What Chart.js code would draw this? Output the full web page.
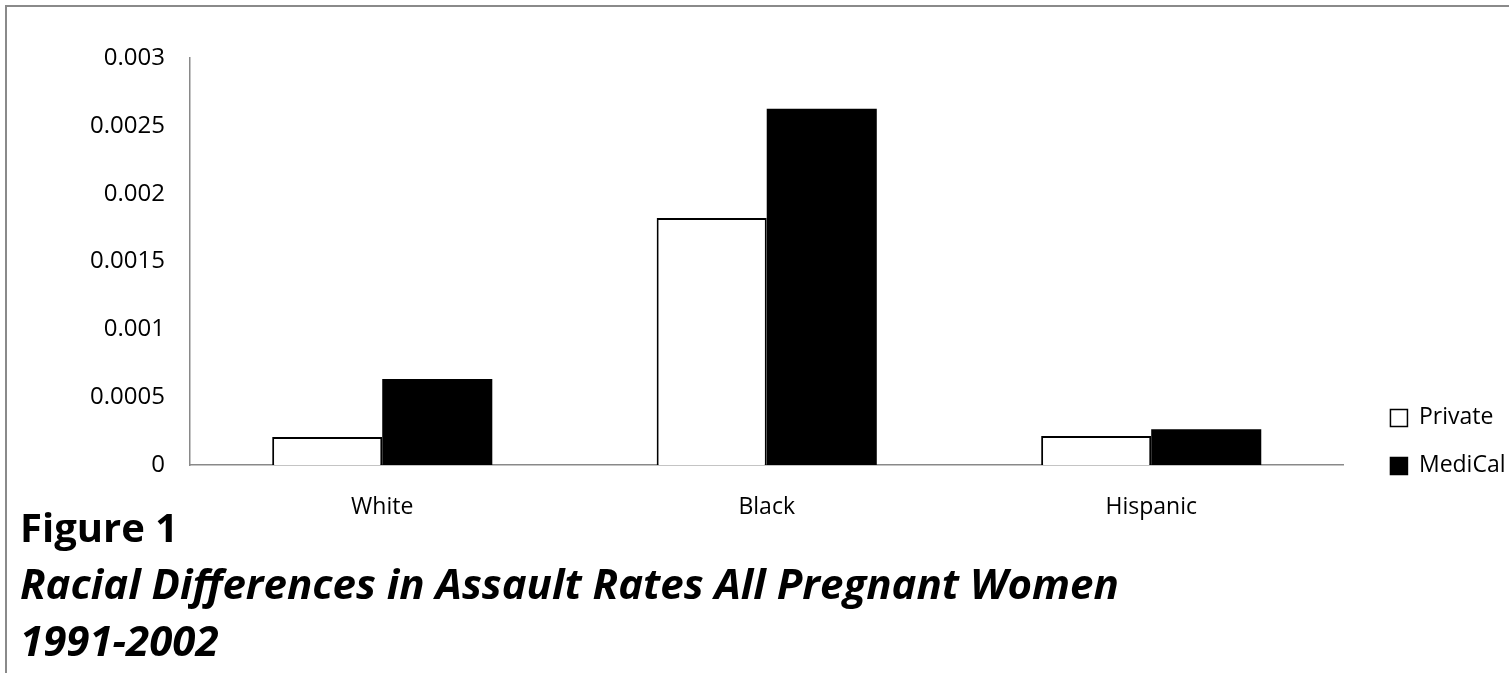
<!DOCTYPE html>
<html>
<head>
<meta charset="utf-8">
<script src="https://cdn.jsdelivr.net/npm/chart.js@4.4.1/dist/chart.umd.min.js"></script>
<style>
  html, body { margin: 0; padding: 0; background: #fff; }
  #wrap { position: absolute; left: 0; top: 0; width: 1509px; height: 673px; }
  #frame { position: absolute; left: 5px; top: 5px; width: 1600px; height: 700px;
           border-left: 2px solid #8a8a8a; border-top: 2px solid #8a8a8a; pointer-events: none; }
</style>
</head>
<body>
<div id="wrap"><canvas id="c" width="1509" height="673"></canvas></div>
<div id="frame"></div>
<script>
const categories = ['White', 'Black', 'Hispanic'];
const privateValues = [0.000207, 0.00182, 0.000214];
const mediCalValues = [0.000634, 0.002626, 0.000263];
const yTickLabels = ['0', '0.0005', '0.001', '0.0015', '0.002', '0.0025', '0.003'];
const seriesNames = ['Private', 'MediCal'];
const figureLabel = 'Figure 1';
const figureCaption = ['Racial Differences in Assault Rates All Pregnant Women', '1991-2002'];

const FONT = "'Open Sans', 'Noto Sans', sans-serif";
const AXIS = '#898989';

new Chart(document.getElementById('c'), {
  type: 'bar',
  data: {
    labels: categories,
    datasets: [
      { label: seriesNames[0], data: privateValues, backgroundColor: '#ffffff', borderColor: '#000000', borderWidth: 2 },
      { label: seriesNames[1], data: mediCalValues, backgroundColor: '#000000', borderColor: '#000000', borderWidth: 0 }
    ]
  },
  options: {
    responsive: false,
    animation: false,
    events: [],
    layout: { padding: { left: 20, right: -6.5, top: 58, bottom: 0.75 } },
    datasets: { bar: { categoryPercentage: 0.5725, barPercentage: 1.0 } },
    scales: {
      x: {
        grid: { display: false, drawTicks: false },
        border: { display: true, color: AXIS, width: 1.5 },
        ticks: { color: '#000', font: { family: FONT, size: 23 }, padding: 29 },
        afterFit(s) { s.height = 62; }
      },
      y: {
        min: 0, max: 0.003,
        grid: { display: false, drawTicks: false },
        border: { display: true, color: AXIS, width: 1.5 },
        ticks: {
          stepSize: 0.0005, color: '#000', font: { family: FONT, size: 24 }, padding: 25,
          callback: (v, i) => yTickLabels[i]
        },
        afterFit(s) { s.width = 170; }
      },
      gap: {
        position: 'right',
        display: true,
        grid: { display: false, drawTicks: false },
        border: { display: false },
        ticks: { display: false },
        afterFit(s) { s.width = 22; }
      }
    },
    plugins: {
      legend: {
        position: 'right',
        align: 'start',
        fullSize: true,
        title: { display: true, text: ' ', padding: { top: 297, bottom: 0 }, font: { family: FONT, size: 22 } },
        labels: {
          color: '#000', font: { family: FONT, size: 23 },
          boxWidth: 17, boxHeight: 17, padding: 25,
          generateLabels(chart) {
            return chart.data.datasets.map((d, i) => ({
              text: d.label, fillStyle: d.backgroundColor, strokeStyle: '#000', lineWidth: 1.5,
              hidden: false, datasetIndex: i, fontColor: '#000'
            }));
          }
        }
      },
      title: {
        display: true, text: figureLabel, position: 'bottom', align: 'start', fullSize: true,
        weight: 1000, color: '#000', padding: { top: -24.25, bottom: 0 },
        font: { family: FONT, size: 40, weight: 'bold', lineHeight: 1.4125 }
      },
      subtitle: {
        display: true, text: figureCaption, position: 'bottom', align: 'start', fullSize: true,
        weight: 2000, color: '#000', padding: { top: 0, bottom: 0 },
        font: { family: FONT, size: 42, weight: 'bold', style: 'italic', lineHeight: 1.345 }
      },
      tooltip: { enabled: false }
    }
  }
});
</script>
</body>
</html>
